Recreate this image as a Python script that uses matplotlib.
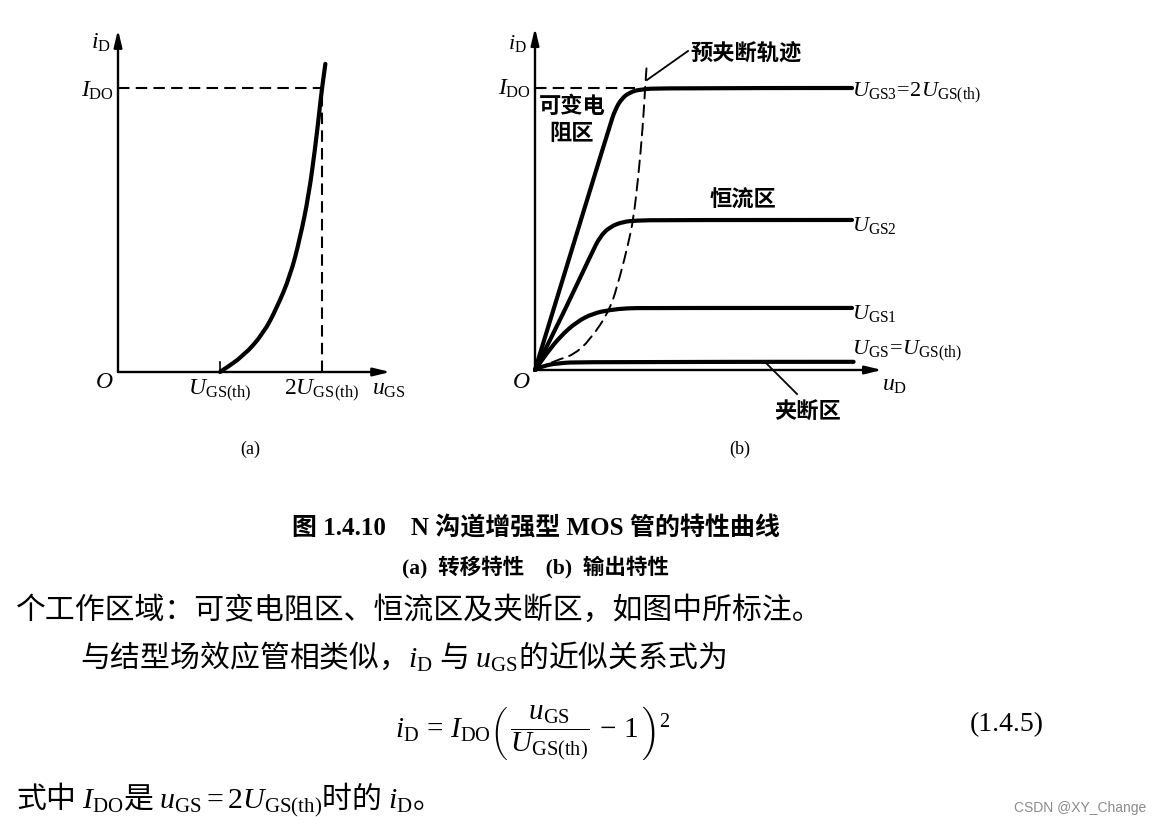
import numpy as np
import matplotlib
matplotlib.use('Agg')
import matplotlib.pyplot as plt
from matplotlib.path import Path
from matplotlib.patches import PathPatch
from matplotlib.lines import Line2D

plt.rcParams['mathtext.fontset'] = 'custom'
plt.rcParams['mathtext.rm'] = 'Liberation Serif'
plt.rcParams['mathtext.it'] = 'Liberation Serif:italic'
plt.rcParams['mathtext.bf'] = 'Liberation Serif:bold'
plt.rcParams['font.family'] = ['Liberation Serif', 'Noto Sans CJK SC']

# ---------------- data ----------------
# (a) transfer characteristic: u_GS in units of U_GS(th), i_D in units of I_DO
transfer_u = [1.0, 1.23, 1.426, 1.557, 1.689, 1.787, 1.869, 1.934, 1.977, 2.0, 2.033]
transfer_i = [0.0, 0.056, 0.136, 0.226, 0.339, 0.475, 0.621, 0.791, 0.927, 1.0, 1.085]

# (b) output characteristics: u_D (arbitrary units), i_D in units of I_DO
ugs3_u = [0.0, 2.366, 2.524, 2.735, 3.0, 3.31, 4.0, 10.0]
ugs3_i = [0.0, 0.869, 0.922, 0.963, 0.985, 0.995, 1.0, 1.0]
ugs2_u = [0.0, 0.894, 1.788, 2.05, 2.366, 2.786, 3.21, 4.0, 10.0]
ugs2_i = [0.0, 0.201, 0.414, 0.473, 0.508, 0.526, 0.530, 0.532, 0.532]
ugs1_u = [0.0, 0.368, 0.789, 1.315, 1.84, 2.366, 2.89, 3.5, 10.0]
ugs1_i = [0.0, 0.059, 0.118, 0.171, 0.201, 0.213, 0.219, 0.220, 0.220]
ugsth_u = [0.0, 0.25, 0.7, 1.5, 10.05]
ugsth_i = [0.0, 0.014, 0.024, 0.029, 0.029]
pinch_u = [0.0, 0.68, 1.21, 1.735, 2.366, 2.68, 2.944, 3.1, 3.26, 3.4, 3.47, 3.52]
pinch_i = [0.0, 0.035, 0.053, 0.106, 0.213, 0.331, 0.449, 0.532, 0.685, 0.863, 0.993, 1.076]

curve_labels_b = [r'$U_{\mathrm{GS3}}\!=\!2U_{\mathrm{GS(th)}}$', r'$U_{\mathrm{GS2}}$',
                  r'$U_{\mathrm{GS1}}$', r'$U_{\mathrm{GS}}\!=\!U_{\mathrm{GS(th)}}$']

# ---------------- figure ----------------
W, H = 1160, 825
fig = plt.figure(figsize=(11.6, 8.25), dpi=100)
fig.patch.set_facecolor('white')


def fxy(px, py):
    return px / W, 1 - py / H


def make_axes(x0px, y0py, xunit, yunit, xlim, ylim):
    left = x0px + xlim[0] * xunit
    right = x0px + xlim[1] * xunit
    top = y0py - ylim[1] * yunit
    bottom = y0py - ylim[0] * yunit
    ax = fig.add_axes([left / W, 1 - bottom / H, (right - left) / W, (bottom - top) / H])
    ax.set_xlim(*xlim)
    ax.set_ylim(*ylim)
    ax.axis('off')
    return ax


def smooth(ax, xs, ys, lw=2.9, ls='-'):
    pts = np.column_stack([xs, ys])
    verts = [pts[0]]
    codes = [Path.MOVETO]
    if len(pts) > 2:
        verts.append((pts[0] + pts[1]) / 2)
        codes.append(Path.LINETO)
        for k in range(1, len(pts) - 1):
            mid = (pts[k] + pts[k + 1]) / 2 if k < len(pts) - 2 else pts[k + 1]
            verts += [pts[k], mid]
            codes += [Path.CURVE3, Path.CURVE3]
    else:
        verts.append(pts[1])
        codes.append(Path.LINETO)
    patch = PathPatch(Path(verts, codes), fill=False, lw=lw, ls=ls, ec='black',
                      capstyle='round', joinstyle='round')
    ax.add_patch(patch)


def axis_arrows(ax, xend, yend):
    style = dict(arrowstyle='-|>,head_length=1.0,head_width=0.24', color='black',
                 lw=1.7, shrinkA=0, shrinkB=0)
    ax.annotate('', xy=(xend, 0), xytext=(0, 0), arrowprops=style, annotation_clip=False)
    ax.annotate('', xy=(0, yend), xytext=(0, 0), arrowprops=style, annotation_clip=False)


dash = (0, (5.5, 3))

# ---------- panel (a) ----------
axa = make_axes(118, 372, 102, 284, (-0.1, 2.75), (-0.05, 1.25))
axis_arrows(axa, 2.67, 1.205)
axa.plot([0, 2.0], [1, 1], color='black', lw=1.5, ls=dash)
axa.plot([2.0, 2.0], [0, 1], color='black', lw=1.5, ls=dash)
axa.plot([1.0, 1.0], [0, 0.035], color='black', lw=1.2)
smooth(axa, transfer_u, transfer_i, lw=3.0)

# ---------- panel (b) ----------
axb = make_axes(535, 370, 31.7, 282, (-0.5, 11.8), (-0.08, 1.25))
axis_arrows(axb, 10.95, 1.213)
axb.plot([0, 3.2], [1, 1], color='black', lw=1.5, ls=dash)
for us, is_ in [(ugs3_u, ugs3_i), (ugs2_u, ugs2_i), (ugs1_u, ugs1_i), (ugsth_u, ugsth_i)]:
    smooth(axb, us, is_, lw=3.0)
smooth(axb, pinch_u, pinch_i, lw=1.4, ls=(0, (6, 3.5)))

# leader lines
for (x1, y1), (x2, y2) in [((647, 80), (688, 51)), ((767, 364), (797, 394))]:
    a = fxy(x1, y1)
    b = fxy(x2, y2)
    fig.add_artist(Line2D([a[0], b[0]], [a[1], b[1]], color='black', lw=1.3,
                          transform=fig.transFigure))

# ---------- texts ----------
def T(px, py, s, size=17, ha='center', va='center', family=None, **kw):
    x, y = fxy(px, py)
    kwargs = dict(fontsize=size, ha=ha, va=va, color='black')
    if family is not None:
        kwargs['family'] = family
    kwargs.update(kw)
    fig.text(x, y, s, **kwargs)

cjk = ['Noto Sans CJK SC']
mix = ['Liberation Serif', 'Noto Sans CJK SC']

# panel (a) labels
T(101, 43, r'$i_{\mathrm{D}}$', 17)
T(114, 91, r'$I_{\mathrm{DO}}$', 17, ha='right')
T(104, 383, r'$O$', 17)
T(220, 391, r'$U_{\mathrm{GS(th)}}$', 17)
T(322, 391, r'$2U_{\mathrm{GS(th)}}$', 17)
T(389, 390, r'$\mathit{u}_{\mathrm{GS}}$', 17, weight='bold')

# panel (b) labels
T(517, 43, r'$i_{\mathrm{D}}$', 16)
T(531, 89, r'$I_{\mathrm{DO}}$', 17, ha='right')
T(521, 382, r'$O$', 17)
T(895, 386, r'$u_{\mathrm{D}}$', 17)
for py, lab in zip([93, 225, 313, 351], curve_labels_b):
    T(852, py, lab, 16, ha='left')

T(690, 53, '预夹断轨迹', 16, ha='left', family=cjk, weight='bold')
T(572, 106, '可变电', 16, family=cjk, weight='bold')
T(572, 134, '阻区', 16, family=cjk, weight='bold')
T(743, 200, '恒流区', 16, family=cjk, weight='bold')
T(808, 412, '夹断区', 16, family=cjk, weight='bold')

T(250, 449, '(a)', 13)
T(740, 449, '(b)', 13)

# captions
T(536, 528, '图 1.4.10    N 沟道增强型 MOS 管的特性曲线', 18, family=mix, weight='bold')
T(535, 567, '(a)  转移特性    (b)  输出特性', 15.5, family=mix, weight='bold')

# body text
T(16, 610, '个工作区域：可变电阻区、恒流区及夹断区，如图中所标注。', 21.5, ha='left', family=cjk)
T(80, 658, r'与结型场效应管相类似，$i_{\mathrm{D}}$ 与 $u_{\mathrm{GS}}$的近似关系式为', 21.5,
  ha='left', family=cjk)
T(533, 733,
  r'$i_{\mathrm{D}}\,=\,I_{\mathrm{DO}}\left(\,\dfrac{u_{\mathrm{GS}}}{U_{\mathrm{GS(th)}}}\,-\,1\,\right)^{2}$',
  21)
T(1007, 725, '(1.4.5)', 20)
T(16, 800, r'式中 $I_{\mathrm{DO}}$是 $u_{\mathrm{GS}} = 2U_{\mathrm{GS(th)}}$时的 $i_{\mathrm{D}}$。', 21.5,
  ha='left', family=cjk)
T(1146, 808, 'CSDN @XY_Change', 10, ha='right', family=['Liberation Sans'], color='#8a8a8a')

fig.savefig('out.png', dpi=100, facecolor='white')
